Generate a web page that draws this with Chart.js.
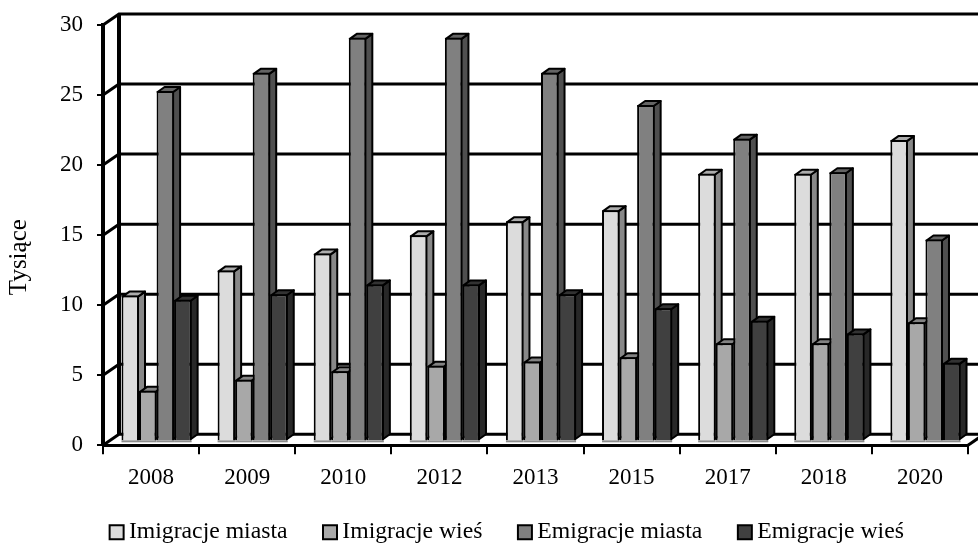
<!DOCTYPE html>
<html>
<head>
<meta charset="utf-8">
<style>
  html, body { margin: 0; padding: 0; background: #fff; }
  canvas { display: block; }
</style>
<script src="https://cdn.jsdelivr.net/npm/chart.js@4"></script>
</head>
<body>
<canvas id="myChart" width="978" height="543"></canvas>
<script>
const years = ['2008', '2009', '2010', '2012', '2013', '2015', '2017', '2018', '2020']
const imigracjeMiasta = [10.4, 12.2, 13.4, 14.7, 15.7, 16.5, 19.1, 19.1, 21.5]
const imigracjeWies = [3.6, 4.4, 5.0, 5.4, 5.7, 6.0, 7.0, 7.0, 8.5]
const emigracjeMiasta = [25.0, 26.3, 28.8, 28.8, 26.3, 24.0, 21.6, 19.2, 14.4]
const emigracjeWies = [10.1, 10.5, 11.2, 11.2, 10.5, 9.5, 8.6, 7.7, 5.6]

const FONT = 'Liberation Serif'
const shade = (hex, f) => {
    const n = parseInt(hex.slice(1), 16)
    const c = s => Math.round(((n >> s) & 255) * f)
    return `rgb(${c(16)},${c(8)},${c(0)})`
}

// pseudo 3D: back wall offset, bar shift and bar depth, in pixels
const wall = { dx: 16, dy: -11 }
const shift = { dx: 5.5, dy: -4 }
const depth = { dx: 7, dy: -5 }

const drawWall = chart => {
    const { ctx, scales: { y }, chartArea } = chart
    ctx.save()
    ctx.strokeStyle = '#000'
    ctx.lineWidth = 3
    y.ticks.forEach(t => {
        const py = y.getPixelForValue(t.value)
        ctx.beginPath()
        ctx.moveTo(chartArea.left, py)
        ctx.lineTo(chartArea.left + wall.dx, py + wall.dy)
        ctx.lineTo(chart.width, py + wall.dy)
        ctx.stroke()
    })
    // floor edge on the right
    ctx.beginPath()
    ctx.moveTo(chartArea.right, chartArea.bottom)
    ctx.lineTo(chartArea.right + wall.dx, chartArea.bottom + wall.dy)
    ctx.stroke()
    ctx.lineWidth = 4
    ctx.beginPath()
    ctx.moveTo(chartArea.left + wall.dx, chartArea.top + wall.dy)
    ctx.lineTo(chartArea.left + wall.dx, chartArea.bottom + wall.dy)
    ctx.stroke()
    ctx.restore()
}

const drawFaces = (ctx, meta, color) => {
    ctx.strokeStyle = '#000'
    ctx.lineWidth = 2
    ctx.lineJoin = 'round'
    meta.data.forEach(bar => {
        const p = bar.getProps(['x', 'y', 'base', 'width'], true)
        const l = p.x - p.width / 2 + 1
        const r = p.x + p.width / 2 - 1
        const t = p.y + 1
        const b = p.base - 1
        // grey strip under the bar
        ctx.fillStyle = '#8c8c8c'
        ctx.fillRect(l - 1, p.base, p.width, 2)
        ctx.fillStyle = shade(color, 0.62)
        ctx.beginPath()
        ctx.moveTo(r, t)
        ctx.lineTo(r + depth.dx, t + depth.dy)
        ctx.lineTo(r + depth.dx, b + depth.dy)
        ctx.lineTo(r, b)
        ctx.closePath()
        ctx.fill()
        ctx.stroke()
        ctx.fillStyle = shade(color, 0.78)
        ctx.beginPath()
        ctx.moveTo(l, t)
        ctx.lineTo(l + depth.dx, t + depth.dy)
        ctx.lineTo(r + depth.dx, t + depth.dy)
        ctx.lineTo(r, t)
        ctx.closePath()
        ctx.fill()
        ctx.stroke()
    })
}

const wallPlugin = {
    id: 'wall',
    afterLayout(chart) {
        // legend is not centred in the reference and sits closer to the axis than its padding allows
        const legend = chart.legend
        legend.left += 26
        legend.right += 26
        legend.top -= 8
    },
    beforeDatasetsDraw(chart) {
        drawWall(chart)
        // left to right, each front covers the side of the bar before it
        chart.data.datasets.forEach((set, i) => {
            const meta = chart.getDatasetMeta(i)
            chart.ctx.save()
            chart.ctx.translate(shift.dx, shift.dy)
            drawFaces(chart.ctx, meta, set.backgroundColor)
            meta.controller.draw()
            chart.ctx.restore()
        })
        return false
    }
}

const makeSet = (label, data, color) => ({
    label: label,
    data: data,
    backgroundColor: color,
    borderColor: '#000',
    borderWidth: 2
})

// the axis title sits lower than the middle of the axis
const fitYAxis = s => {
    s.width = 103
    s.paddingTop = 0
    if (s.titleMoved) return
    const drawTitle = s.drawTitle
    s.drawTitle = function () {
        s.ctx.save()
        s.ctx.translate(0, 22)
        drawTitle.call(s)
        s.ctx.restore()
    }
    s.titleMoved = true
}

new Chart(document.getElementById('myChart'), {
    type: 'bar',
    data: {
        labels: years,
        datasets: [
            makeSet('Imigracje miasta', imigracjeMiasta, '#dcdcdc'),
            makeSet('Imigracje wieś', imigracjeWies, '#a8a8a8'),
            makeSet('Emigracje miasta', emigracjeMiasta, '#808080'),
            makeSet('Emigracje wieś', emigracjeWies, '#404040')
        ]
    },
    options: {
        responsive: false,
        animation: false,
        layout: { padding: { top: 25, right: 10, bottom: -19, left: 0 } },
        datasets: { bar: { barPercentage: 1, categoryPercentage: 0.73 } },
        plugins: {
            tooltip: { enabled: false },
            legend: {
                position: 'bottom',
                labels: {
                    usePointStyle: true,
                    pointStyle: 'rect',
                    boxWidth: 1,
                    boxHeight: 14,
                    padding: 42,
                    color: '#000',
                    font: { family: FONT, size: 23.7 }
                }
            }
        },
        scales: {
            x: {
                afterFit: s => { s.height = 41 },
                border: { color: '#000', width: 3 },
                grid: { color: '#000', lineWidth: 2, drawOnChartArea: false, tickLength: 9 },
                ticks: { color: '#000', maxRotation: 0, padding: 10, font: { family: FONT, size: 23 } }
            },
            y: {
                min: 0,
                max: 30,
                afterFit: fitYAxis,
                border: { color: '#000', width: 4 },
                grid: { color: '#000', lineWidth: 2, drawOnChartArea: false, tickLength: 6 },
                ticks: { stepSize: 5, color: '#000', padding: 14, font: { family: FONT, size: 23 } },
                title: { display: true, text: 'Tysiące', color: '#000', padding: { top: 4, bottom: 0 }, font: { family: FONT, size: 25 } }
            }
        }
    },
    plugins: [wallPlugin]
})
</script>
</body>
</html>
